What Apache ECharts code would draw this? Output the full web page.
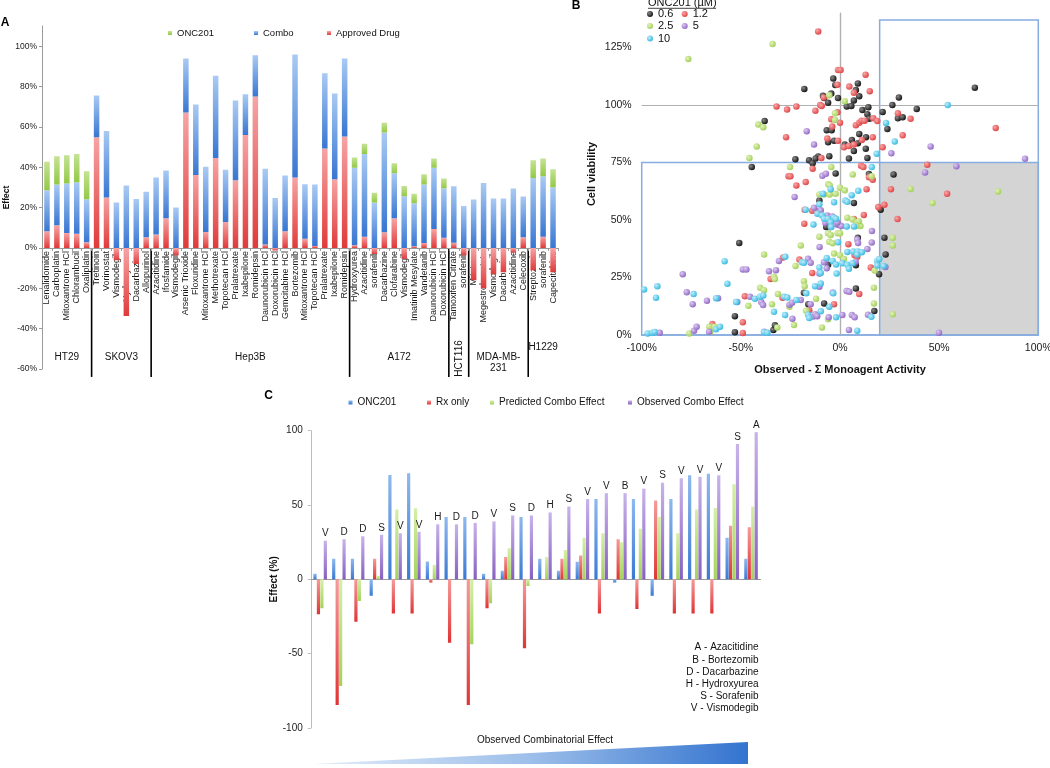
<!DOCTYPE html>
<html>
<head>
<meta charset="utf-8">
<script src="https://cdn.jsdelivr.net/npm/echarts@6/dist/echarts.min.js"></script>
<style>
html,body{margin:0;padding:0;background:#fff;}
#main{width:1050px;height:768px;}
</style>
</head>
<body>
<div id="main"></div>
<script>
// ---------------- Panel A data ----------------
const aCategories = ['Lenalidomide','Carboplatin','Mitoxantrone HCl','Chlorambucil','Oxaliplatin',
 'Tretinoin','Vorinostat','Vismodegib','Hydroxyurea','Dacarbazine','Allopurinol',
 'Azacitidine','Ifosfamide','Vismodegib','Arsenic Trioxide','Floxuridine','Mitoxantrone HCl','Methotrexate','Topotecan HCl','Pralatrexate','Ixabepilone','Romidepsin','Daunorubicin HCl','Doxorubicin HCl','Gemcitabine HCl','Bortezomib','Mitoxantrone HCl','Topotecan HCl','Pralatrexate','Ixabepilone','Romidepsin',
 'Hydroxyurea','Azacitidine','sorafenib','Dacarbazine','Clofarabine','Vismodegib','Imatinib Mesylate','Vandetanib','Daunorubicin HCl','Doxorubicin HCl',
 'Tamoxifen Citrate','sorafenib',
 'Mitotane','Megestrol acetate','Vismodegib','Dacarbazine','Azacitidine','Celecoxib',
 'Streptozocin','sorafenib','Capecitabine'];
const aApproved = [8.3,11.3,7.4,7.0,2.8, 54.9,25.0,-6.1,-33.7,-8,5.3, 6.6,14.7,-3.6,67.1,36.1,7.9,44.6,12.9,33.6,56.0,75.0,1.7,-1.3,8.3,34.9,4.5,1.0,49.3,34.0,55.2, 1.3,5.6,-3.0,7.8,14.7,-5.3,0.8,2.5,9.4,5.1, 2.6,-3.6, -16,-20,-13,-12,-2.3,5.3, -11,5.6,-12];
const aCombo = [20.3,20.1,24.5,25.6,21.3, 20.7,33.0,22.5,30.9,24.3,22.6, 28.3,23.7,20.0,26.8,35.0,32.4,40.7,25.9,39.5,20.2,20.5,37.6,24.8,27.6,61.0,27.1,30.4,37.3,42.5,38.7, 38.5,41.0,22.5,49.4,22.3,25.6,21.3,28.9,30.3,24.5, 28.0,20.8, 24.0,32.2,24.5,24.5,29.4,20.2, 34.7,29.9,30.1];
const aOnc = [14.1,14.1,14.1,14.0,13.9, 0,0,0,0,0,0, 0,0,0,0,0,0,0,0,0,0,0,0,0,0,0,0,0,0,0,0, 5.0,5.0,4.9,4.8,5.0,5.1,4.8,5.1,4.6,4.8, 0,0, 0,0,0,0,0,0, 8.8,8.8,8.9];
const aCellLines = ['HT29','SKOV3','Hep3B','A172','HCT116','MDA-MB-\n231','H1229'];
const aGroupSizes = [5,6,20,10,2,6,3];
const aYMin = -60, aYMax = 110;

// ---------------- Panel B data ([observed - sum monoagent %, cell viability %]) ----------------
const b06 = [[-38,93],[-44.5,73],[-18,107],[-8.6,104],[-8,103],[-4.4,105],[-6,101],[-3.4,111.5],[-2.4,108.7],[-1,103],[9,109.4],[8,106.5],[7,102],[9.7,103.8],[3.4,99.3],[5.7,99.6],[11.3,97.8],[14.3,99],[13.8,96],[21.5,97],[26.4,100],[29.7,103.3],[29.2,94.2],[31.6,94.7],[38.7,98.3],[23.9,89.6],[68,107.5],[-6.7,89],[-4.2,89],[9.7,87.4],[13.1,86],[-6,83.8],[-3,84.5],[6,84.8],[9,83.4],[13,81],[2.4,82.8],[7,80],[4.5,76.7],[13.8,77],[-11,77.6],[-5.4,77.7],[-15.6,76],[-13.8,74.7],[-22.5,76.4],[-12.3,76.7],[-2.2,70.2],[14.6,70],[27,69.8],[14.8,94],
 [-10.4,58.5],[7,57.4],[20.5,54.5],[-7,47],[9,42.3],[22.4,42.3],[23,35],[-50.8,40],[-6,30.5],[8,30.3],[19.7,26.4],[-18.2,18.4],[-16,13.4],[-8,13.7],[8,20.2],[17.3,10.4],[-53,8.2],[-53,1.2],[-33.6,2.2],[-32.8,4.2]];
const b12 = [[-11,132],[-1,115.2],[0.3,115.2],[-1.3,108.8],[-1.3,96.8],[12.9,113.2],[15,106],[4.7,108],[7,105.3],[-8.2,103.3],[-10,100],[-9.2,99.6],[-32,99.4],[-26.7,98],[-22,99.3],[-12.4,97.5],[-4.4,93.8],[-3.9,90.6],[0,92.3],[8,91.2],[9.7,92.3],[10.8,93.2],[12.4,93.2],[16.8,94.2],[18.8,93],[29.2,96.4],[35.6,94],[31.6,86.8],[-27.2,86],[-6.4,85.4],[-1,84.5],[2,81.6],[4.5,82.2],[7,82.8],[11,84.8],[16.5,86],[21.5,81.6],[-9.4,77],[-13.8,72.3],[10.6,73.6],[11.8,73],[14.6,68.6],[16.5,67.5],[44,74],[78.5,90],[-26,69],[-25,69],[-17.3,66.5],[-22,65],[13.4,63.4],[25.7,63.4],[54,61.4],
 [19.3,55.6],[22.4,56.6],[-17.8,54.5],[-14,54],[-12,54],[12,52.2],[7,50.4],[29,50.4],[-18,48.4],[4.2,39.5],[-28.7,33.7],[-20.5,32.8],[-14,27],[7.4,34.7],[8.7,34],[15.5,29.3],[-35,24.3],[-48,16.8],[-29,16.2],[-15.5,10.8],[-3,13.4],[9.7,17.8],[-49,5.5],[-49,0.9],[-64.4,4.8]];
const b25 = [[-76.5,120],[-34,126.5],[-41.2,91.5],[-38.7,90.3],[-42,82],[-45.7,77],[-25.2,73],[-4.4,73],[-5.4,104.2],[2.4,101.6],[-2.5,96.4],[-2.5,93.5],[6.4,69.8],[16,69],[35.6,63.5],[79.7,62.4],
 [-5.9,65.5],[-5.2,65],[0,64],[2.4,62.9],[-10.4,61.1],[-8.1,61.1],[-2.2,61.4],[-5.2,61.1],[46.6,57.4],[3.7,51],[6.4,50.2],[8.7,49],[10.3,47.4],[9.5,49.5],[8.2,47.4],[26.6,42.3],[26.6,38.9],[-19.8,38.9],[-10.4,42.7],[-6,44.2],[-4.7,43.5],[-5.4,40.5],[-3.7,39.9],[-1.2,44.2],[0,44.2],[-38.3,35],[-3,35.4],[0,34.7],[2,33],[-22.4,30],[17.5,28],[-33.3,25.3],[-32.8,24.3],[-46.2,12.7],[-40.3,20.5],[-38.3,19.5],[-34.3,13.4],[-31.3,17.8],[-25.5,12.3],[-23.2,4.3],[-18.2,23.4],[-17.8,21.2],[-17.1,10.5],[-12.1,15.8],[-9.1,3.3],[-6,6.8],[3.4,19.1],[17.1,13.7],[17.1,20.5],[26.6,9],[-76,0.7],[-65.9,3.6],[-65.4,1.4],[-63.2,3.6],[-31.6,3.3]];
const b5 = [[-16.8,88.6],[-13.1,82.8],[25.9,79],[45.7,82],[93.3,76.6],[58.7,73.4],[42.9,70.7],[-8.9,69.2],[-7.1,70.1],[-22.9,60],
 [-13.1,55.3],[-9.7,54.2],[-6.4,52],[-7.1,50.5],[-4.7,50.5],[-3.9,51.5],[-7.4,48.8],[-3.4,48.6],[-0.7,47.8],[-4.7,47],[-2,48.2],[0.7,47.4],[-1.3,48.9],[16.1,45.2],[16,40.2],[8.7,41.5],[9.1,40],[-10.3,38.3],[-30.8,32.2],[-16.1,33.1],[-14.8,31.4],[-8.1,31.6],[-6.7,29],[-10.4,26.7],[7.9,31.9],[13.8,37.4],[22.9,29.6],[-79.3,26.4],[-49,28.5],[-47.2,28.5],[-35.8,27.7],[-32.3,28.2],[-77.3,18.6],[-74.3,13.4],[-67.1,14.9],[-61.5,16],[-51.8,14.3],[-45.4,16.6],[-39.7,14.3],[-38.8,13],[-25.5,13.2],[-24.2,14],[-24,7.1],[-19.8,15.2],[-13.5,8],[-12.5,9],[-11.5,8.2],[-14.8,13.4],[-10.4,21],[-5.7,7.7],[-3.7,18.5],[1.2,8.7],[3.4,19.1],[4.7,18.8],[6,8.7],[7.4,7.7],[4.5,2.2],[14.1,8.8],[49.9,1],[-90.9,1],[-73.6,1.9],[-72.3,3.6],[-66,1.4],[-38.3,1.4]];
const b10 = [[54.3,100],[23.2,92.2],[27.6,84.1],[18.5,78.8],[16,73],[9.2,62.7],[5.9,60.8],[-4.7,63.4],[-8.6,61.4],
 [-3,57.7],[2.7,58.5],[3.7,57.9],[-10.4,56.8],[-17.3,54.5],[-11.4,52.7],[-9,52],[-8,50.5],[-6,50.5],[-3,51],[-2,50.5],[-4.7,49],[-13.4,48],[-4.4,47],[3.4,47.2],[7,47.2],[-1,40.3],[-27.6,34],[-58.2,32.1],[-19.2,31.6],[-18.2,31.4],[-10.4,29.3],[-9.7,27],[-3.7,32.2],[-2,30.6],[1.2,31.2],[3.7,30.5],[6.4,31.2],[4.5,28.8],[-1.7,26.7],[-6.7,33.5],[3.7,36.1],[6.7,36.3],[9,36.3],[11,36],[8.7,35],[18.8,32.2],[19.8,33],[18.8,30.2],[22,30],[-56.8,22.3],[-92.1,21.2],[-98.8,19.8],[-92.8,16.2],[-73.8,17.8],[-62.5,16],[-52.4,14.3],[-42.9,15.8],[-40.3,16.6],[-38.7,17.2],[-33.3,10.1],[-28.2,16.6],[-26.6,16.3],[-27.7,8.7],[-22,15.2],[-17,18.1],[-16.1,8.8],[-15.5,7.4],[-12.6,21.2],[-9.7,22.4],[-9.7,10.3],[-5.4,12.3],[-3.4,18.1],[-2,7.7],[8.7,1.9],[15.8,7.9],[-97,0.7],[-94.5,1],[-93.4,1.3],[-62.5,2.5],[-60.5,3.6],[-38.3,1.2],[-36.6,1]];

// ---------------- Panel C data ----------------
const cLetters = ['V','D','D','S','V','V','H','D','D','V','S','D','H','S','V','V','B','V','S','V','V','V','S','A'];
const cOnc  = [3.8,13.9,13.9,-11,70.2,71.3,12,42,42,3.8,5.8,42,13.9,5.8,11.9,54,-2.2,54,-11,54,70,71,28,13.9];
const cRx   = [-23.5,-84.6,-28.5,13.9,-23,-23,-2.2,-42.6,-84.6,-19.5,15,-46.4,-0.5,13.9,16,-23,27,-20,53,-23,-23,-23,36,35];
const cPred = [-19.5,-71.7,-14.6,2.5,47,47.8,9.6,0,-43.7,-16,21,-4.5,15,19.7,28,31,25,34,42,31,47,48,64,49];
const cObs  = [26,27,29,30,31,32,37,37,38,39,43,43,45,49,54,58,58,61,65,68,69,70,91,99];
const cKeyLines = ['A - Azacitidine','B - Bortezomib','D - Dacarbazine','H - Hydroxyurea','S - Sorafenib','V - Vismodegib'];

// ---------------- Styling helpers ----------------
const FONT = 'Liberation Sans, Arial, Helvetica, sans-serif';
const vgrad = (t, b) => new echarts.graphic.LinearGradient(0, 0, 0, 1, [{offset: 0, color: t}, {offset: 1, color: b}]);
const ball = (l, b) => new echarts.graphic.RadialGradient(0.35, 0.35, 0.75, [{offset: 0, color: l}, {offset: 1, color: b}]);

const chart = echarts.init(document.getElementById('main'), null, {renderer: 'canvas'});

const gridA = {left: 42, top: 26, width: 516, height: 343};
// move panel A category axis (with its labels) up to the 0% line
const aAxisOffset = -gridA.height * (0 - aYMin) / (aYMax - aYMin);

const legendBase = {padding: 0, selectedMode: false, itemWidth: 4, itemHeight: 4, icon: 'rect',
  textStyle: {fontFamily: FONT, fontSize: 9.5, color: '#111'}};
const legB = {padding: 0, selectedMode: false, itemWidth: 6, itemHeight: 6, icon: 'circle', itemGap: 8.4,
  textStyle: {fontFamily: FONT, fontSize: 11, color: '#111'}};
const legC = Object.assign({}, legendBase, {textStyle: {fontFamily: FONT, fontSize: 10, color: '#111'}});

const scatterSeries = (name, data, light, base) => ({
  type: 'scatter', name, data, xAxisIndex: 1, yAxisIndex: 1, symbolSize: 6.5,
  itemStyle: {color: ball(light, base), opacity: 1}, silent: true
});

const sB06 = scatterSeries('0.6', b06, '#8a8a8a', '#080808');
sB06.markArea = {silent: true, z: 1, data: [
  [{coord: [20, 0], itemStyle: {color: '#d4d4d4', borderWidth: 0}}, {coord: [100, 75]}],
  [{coord: [-100, 0], itemStyle: {color: 'rgba(0,0,0,0)', borderColor: '#86ace0', borderWidth: 1.5}}, {coord: [100, 75]}],
  [{coord: [20, 0], itemStyle: {color: 'rgba(0,0,0,0)', borderColor: '#86ace0', borderWidth: 1.5}}, {coord: [100, 137]}]
]};
sB06.markLine = {silent: true, z: 1, symbol: 'none', label: {show: false},
  lineStyle: {color: '#b0b0b0', width: 1.2, type: 'solid'},
  data: [{xAxis: 0}, {yAxis: 100}]};

const option = {
  animation: false,
  backgroundColor: '#fff',
  textStyle: {fontFamily: FONT},
  grid: [
    Object.assign({outerBoundsMode: 'none', containLabel: false}, gridA),
    {left: 641.7, top: 13, width: 396.6, height: 322, outerBoundsMode: 'none', containLabel: false},
    {left: 310.8, top: 430.7, width: 449.6, height: 297.3, outerBoundsMode: 'none', containLabel: false}
  ],
  legend: [
    Object.assign({}, legendBase, {data: ['ONC201'], left: 168, top: 28}),
    Object.assign({}, legendBase, {data: ['Combo'], left: 254, top: 28}),
    Object.assign({}, legendBase, {data: ['Approved Drug'], left: 327, top: 28}),
    Object.assign({}, legB, {data: ['0.6', '1.2'], left: 647, top: 8.5}),
    Object.assign({}, legB, {data: ['2.5', '5'], left: 647, top: 20.5}),
    Object.assign({}, legB, {data: ['10'], left: 647, top: 33}),
    Object.assign({}, legC, {data: ['ONC201 '], left: 348.5, top: 397.5}),
    Object.assign({}, legC, {data: ['Rx only'], left: 427, top: 397.5}),
    Object.assign({}, legC, {data: ['Predicted Combo Effect'], left: 490, top: 397.5}),
    Object.assign({}, legC, {data: ['Observed Combo Effect'], left: 628, top: 397.5})
  ],
  xAxis: [
    {type: 'category', gridIndex: 0, data: aCategories, boundaryGap: true, position: 'bottom', offset: aAxisOffset,
     axisLine: {onZero: false, lineStyle: {color: '#9a9a9a', width: 1}},
     axisTick: {show: true, length: 3, interval: 0, lineStyle: {color: '#9a9a9a'}},
     axisLabel: {interval: 0, rotate: 90, margin: 3, fontSize: 9, color: '#1a1a1a', fontFamily: FONT},
     splitLine: {show: false}},
    {type: 'value', gridIndex: 1, min: -100, max: 100, interval: 50,
     name: 'Observed - Σ Monoagent Activity', nameLocation: 'middle', nameGap: 29,
     nameTextStyle: {fontFamily: FONT, fontSize: 11, fontWeight: 'bold', color: '#111'},
     axisLine: {onZero: false, lineStyle: {color: '#86ace0', width: 1.5}},
     axisTick: {show: false},
     axisLabel: {formatter: '{value}%', fontSize: 10.5, color: '#1a1a1a', margin: 8, fontFamily: FONT},
     splitLine: {show: false}},
    {type: 'category', gridIndex: 2, data: cLetters.map((l, i) => String(i + 1)),
     axisLine: {onZero: true, lineStyle: {color: '#9a9a9a', width: 1.2}},
     axisTick: {show: false}, axisLabel: {show: false}, splitLine: {show: false}}
  ],
  yAxis: [
    {type: 'value', gridIndex: 0, min: aYMin, max: aYMax, interval: 20,
     name: 'Effect', nameLocation: 'middle', nameGap: 31,
     nameTextStyle: {fontFamily: FONT, fontSize: 8.5, fontWeight: 'bold', color: '#111'},
     axisLine: {show: true, lineStyle: {color: '#9a9a9a'}},
     axisTick: {show: true, length: 3, lineStyle: {color: '#9a9a9a'}},
     axisLabel: {formatter: '{value}%', fontSize: 8.5, color: '#222', margin: 5, showMaxLabel: false, fontFamily: FONT},
     splitLine: {show: false}},
    {type: 'value', gridIndex: 1, min: 0, max: 140, interval: 25,
     name: 'Cell viability', nameLocation: 'middle', nameGap: 44,
     nameTextStyle: {fontFamily: FONT, fontSize: 11, fontWeight: 'bold', color: '#111'},
     axisLine: {show: true, lineStyle: {color: '#a8a8a8', width: 1.2}},
     axisTick: {show: false},
     axisLabel: {formatter: '{value}%', fontSize: 10.5, color: '#1a1a1a', margin: 10, showMaxLabel: false, fontFamily: FONT},
     splitLine: {show: false}},
    {type: 'value', gridIndex: 2, min: -100, max: 100, interval: 50,
     name: 'Effect (%)', nameLocation: 'middle', nameGap: 25,
     nameTextStyle: {fontFamily: FONT, fontSize: 10, fontWeight: 'bold', color: '#111'},
     axisLine: {show: true, lineStyle: {color: '#bdbdbd'}},
     axisTick: {show: true, length: 3, lineStyle: {color: '#bdbdbd'}},
     axisLabel: {fontSize: 10, color: '#222', margin: 8, fontFamily: FONT},
     splitLine: {show: false}}
  ],
  series: [
    // Panel A
    {type: 'bar', name: 'Approved Drug', stack: 'a', data: aApproved, xAxisIndex: 0, yAxisIndex: 0, barWidth: 5.5,
     itemStyle: {color: vgrad('#f6a4a4', '#e03a3a')}, silent: true},
    {type: 'bar', name: 'Combo', stack: 'a', data: aCombo, xAxisIndex: 0, yAxisIndex: 0, barWidth: 5.5,
     itemStyle: {color: vgrad('#a9caf3', '#3876d2')}, silent: true},
    {type: 'bar', name: 'ONC201', stack: 'a', data: aOnc, xAxisIndex: 0, yAxisIndex: 0, barWidth: 5.5,
     itemStyle: {color: vgrad('#c4e394', '#93c846')}, silent: true},
    // Panel B
    sB06,
    scatterSeries('1.2', b12, '#f8a8a8', '#dc3a3c'),
    scatterSeries('2.5', b25, '#e3f3b8', '#9bcb52'),
    scatterSeries('5', b5, '#dccaf2', '#8a5fc0'),
    scatterSeries('10', b10, '#c0eefb', '#28b4de'),
    // Panel C
    {type: 'bar', name: 'ONC201 ', data: cOnc, xAxisIndex: 2, yAxisIndex: 2, barWidth: 3.2, barGap: '8%',
     itemStyle: {color: vgrad('#8fb9ee', '#3a79d4')}, silent: true},
    {type: 'bar', name: 'Rx only', data: cRx, xAxisIndex: 2, yAxisIndex: 2, barWidth: 3.2, barGap: '8%',
     itemStyle: {color: vgrad('#f59a9a', '#e03434')}, silent: true},
    {type: 'bar', name: 'Predicted Combo Effect', data: cPred, xAxisIndex: 2, yAxisIndex: 2, barWidth: 3.2, barGap: '8%',
     itemStyle: {color: vgrad('#d6eea8', '#a4d35c')}, silent: true},
    {type: 'bar', name: 'Observed Combo Effect', data: cObs, xAxisIndex: 2, yAxisIndex: 2, barWidth: 3.2, barGap: '8%',
     itemStyle: {color: vgrad('#c8b3ea', '#8660c0')}, silent: true,
     label: {show: true, position: 'top', distance: 2, fontSize: 10, color: '#1a1a1a', fontFamily: FONT,
             formatter: p => cLetters[p.dataIndex]}}
  ]
};

chart.setOption(option);

// ---------------- Annotations (positions derived from axes) ----------------
const g = [];
const txt = (text, x, y, opts) => Object.assign({type: 'text', x, y, silent: true,
  style: Object.assign({text, fill: '#111', font: '10px ' + FONT, align: 'center', verticalAlign: 'middle'}, (opts && opts.style) || {})},
  (opts && opts.el) || {});

// Panel letters
g.push(txt('A', 5, 22.5, {style: {font: 'bold 12px ' + FONT, fill: '#000'}}));
g.push(txt('B', 576, 6, {style: {font: 'bold 12px ' + FONT, fill: '#000'}}));
g.push(txt('C', 268.5, 396, {style: {font: 'bold 12px ' + FONT, fill: '#000'}}));

// Panel A: cell-line separators and labels
const pxA = i => chart.convertToPixel({xAxisIndex: 0}, i);
const y0A = chart.convertToPixel({yAxisIndex: 0}, 0);
let start = 0;
aGroupSizes.forEach((n, gi) => {
  const end = start + n - 1;
  const cx = (pxA(start) + pxA(end)) / 2;
  const name = aCellLines[gi];
  if (name === 'HCT116') {
    g.push(txt(name, cx, y0A + 110.5, {style: {font: '10px ' + FONT}, el: {rotation: Math.PI / 2}}));
  } else if (name === 'H1229') {
    g.push(txt(name, cx, y0A + 99.5, {style: {font: '10px ' + FONT}}));
  } else if (name.indexOf('\n') >= 0) {
    g.push(txt(name, cx, y0A + 115, {style: {font: '10px ' + FONT, lineHeight: 11.5}}));
  } else {
    g.push(txt(name, cx, y0A + 109.5, {style: {font: '10px ' + FONT}}));
  }
  if (gi < aGroupSizes.length - 1) {
    const bx = (pxA(end) + pxA(end + 1)) / 2;
    g.push({type: 'line', silent: true, shape: {x1: bx, y1: y0A, x2: bx, y2: y0A + 129},
      style: {stroke: '#000', lineWidth: 1.6}});
  }
  start += n;
});

// Panel B: legend title (underlined)
g.push(txt('ONC201 (µM)', 648, 3, {style: {font: '11px ' + FONT, align: 'left'}}));
g.push({type: 'line', silent: true, shape: {x1: 648, y1: 8.3, x2: 716, y2: 8.3}, style: {stroke: '#111', lineWidth: 0.8}});

// Panel C: key
cKeyLines.forEach((t, i) => g.push(txt(t, 758.5, 647.7 + i * 12.1, {style: {font: '10px ' + FONT, align: 'right'}})));

// Panel C: trend wedge
g.push({type: 'polygon', silent: true, shape: {points: [[313, 764], [748, 764], [748, 742]]},
  style: {fill: new echarts.graphic.LinearGradient(0, 0, 1, 0, [{offset: 0, color: '#e2ecf9'}, {offset: 0.5, color: '#9dbfea'}, {offset: 1, color: '#3373cf'}])}});
g.push(txt('Observed Combinatorial Effect', 545, 740, {style: {font: '10px ' + FONT}}));

chart.setOption({graphic: g});
</script>
</body>
</html>
